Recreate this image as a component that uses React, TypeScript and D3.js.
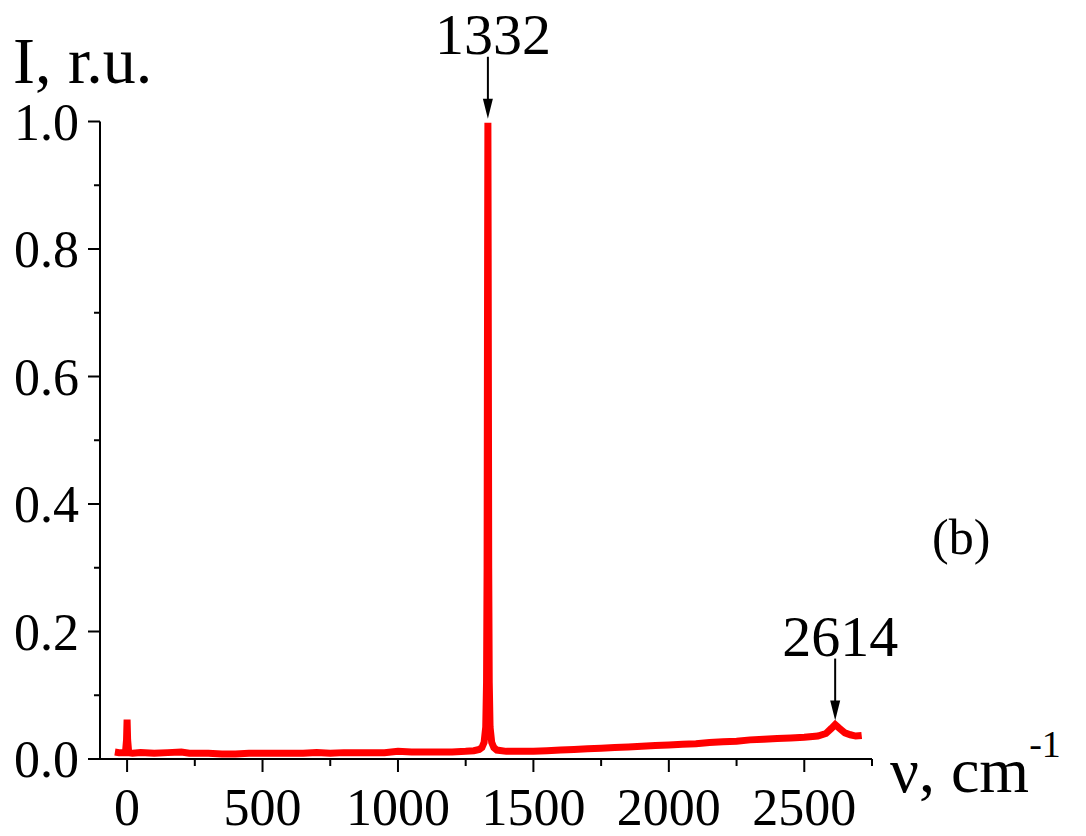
import React from "react";
import * as d3 from "d3";

// Raman spectrum (wavenumber, cm^-1) and normalized intensity
const waveNumbers = [
  -45, -30, -15, -6, -2, 0, 2, 6, 20, 50, 100, 150, 200, 230, 300, 350, 400, 450, 500,
  550, 600, 650, 700, 750, 800, 850, 900, 950, 1000, 1050, 1100, 1150, 1200, 1250, 1280,
  1300, 1310, 1318, 1324, 1327, 1329, 1331, 1332, 1333, 1335, 1337, 1340, 1346, 1354,
  1365, 1400, 1450, 1500, 1550, 1600, 1650, 1700, 1750, 1800, 1850, 1900, 1950, 2000,
  2050, 2100, 2150, 2200, 2250, 2300, 2350, 2400, 2450, 2500, 2550, 2580, 2600, 2614,
  2630, 2650, 2670, 2690, 2712,
];
const intensities = [
  0.011, 0.01, 0.01, 0.01, 0.03, 0.062, 0.03, 0.01, 0.009, 0.01, 0.009, 0.01, 0.011, 0.009,
  0.009, 0.008, 0.008, 0.009, 0.009, 0.009, 0.009, 0.009, 0.01, 0.009, 0.01, 0.01, 0.01,
  0.01, 0.012, 0.011, 0.011, 0.011, 0.011, 0.012, 0.013, 0.015, 0.018, 0.026, 0.05, 0.12,
  0.3, 0.8, 0.998, 0.8, 0.3, 0.12, 0.05, 0.026, 0.018, 0.014, 0.012, 0.012, 0.012, 0.013,
  0.014, 0.015, 0.016, 0.017, 0.018, 0.019, 0.02, 0.021, 0.022, 0.023, 0.024, 0.026,
  0.027, 0.028, 0.03, 0.031, 0.032, 0.033, 0.034, 0.036, 0.04, 0.048, 0.054, 0.048,
  0.041, 0.038, 0.036, 0.037,
];

const xMajorTicks = [0, 500, 1000, 1500, 2000, 2500];
const xMinorTicks = [250, 750, 1250, 1750, 2250, 2750];
const yMajorTicks = [0, 0.2, 0.4, 0.6, 0.8, 1.0];
const yMinorTicks = [0.1, 0.3, 0.5, 0.7, 0.9];

const peakLabels = ["1332", "2614"];
const peakPositions = [1332, 2614];
const peakHeights = [0.998, 0.054];

const FONT = "'Liberation Serif', 'Times New Roman', serif";

export default function App() {
  const x = d3.scaleLinear().domain([-100, 2750]).range([100, 872]);
  const y = d3.scaleLinear().domain([0, 1]).range([759, 121.5]);

  const pts = waveNumbers.map((w, i) => [w, intensities[i]] as [number, number]);
  const line = d3
    .line<[number, number]>()
    .x((d) => x(d[0]))
    .y((d) => y(d[1]));

  const x0 = x.range()[0];
  const x1 = x.range()[1];
  const yb = y(0);
  const yt = y(1);

  return (
    <svg
      width={1086}
      height={836}
      style={{ position: "absolute", left: 0, top: 0, background: "#fff" }}
      fontFamily={FONT}
    >
      <rect x={0} y={0} width={1086} height={836} fill="#fff" />
      {/* spectrum */}
      <path d={line(pts) || ""} fill="none" stroke="#ff0000" strokeWidth={7} />

      {/* axes */}
      <g stroke="#000" strokeWidth={2} fill="none">
        <line x1={x0} y1={yt} x2={x0} y2={yb} />
        <line x1={x0} y1={yb} x2={x1} y2={yb} />
        {yMajorTicks.map((t) => (
          <line key={"ym" + t} x1={x0 - 12} x2={x0} y1={y(t)} y2={y(t)} />
        ))}
        {yMinorTicks.map((t) => (
          <line key={"yn" + t} x1={x0 - 6} x2={x0} y1={y(t)} y2={y(t)} />
        ))}
        {xMajorTicks.map((t) => (
          <line key={"xm" + t} x1={x(t)} x2={x(t)} y1={yb} y2={yb + 13} />
        ))}
        {xMinorTicks.map((t) => (
          <line key={"xn" + t} x1={x(t)} x2={x(t)} y1={yb} y2={yb + 7} />
        ))}
      </g>

      {/* tick labels */}
      <g fill="#000" fontSize={52}>
        {yMajorTicks.map((t) => (
          <text key={"yl" + t} x={x0 - 21} y={y(t) + 18} textAnchor="end">
            {t.toFixed(1)}
          </text>
        ))}
        {xMajorTicks.map((t) => (
          <text key={"xl" + t} x={x(t)} y={825} textAnchor="middle">
            {t}
          </text>
        ))}
      </g>

      {/* axis titles */}
      <text x={13} y={83} fontSize={66} fill="#000">
        I, r.u.
      </text>
      <text x={890} y={792} fontSize={64} fill="#000">
        ν, cm
        <tspan fontSize={38} dy={-35}>
          -1
        </tspan>
      </text>

      {/* panel label */}
      <text x={932} y={554} fontSize={50} fill="#000">
        (b)
      </text>

      {/* peak annotations */}
      {peakPositions.map((p, i) => {
        const px = x(p);
        const tip = y(peakHeights[i]) - 4;
        const tail = tip - 62;
        return (
          <g key={"pk" + i}>
            <line x1={px} x2={px} y1={tail} y2={tip - 16} stroke="#000" strokeWidth={2} />
            <path
              d={`M${px - 5},${tip - 20} L${px + 5},${tip - 20} L${px},${tip} Z`}
              fill="#000"
            />
            <text
              x={px + 5}
              y={tail - 3}
              fontSize={58}
              textAnchor="middle"
              fill="#000"
            >
              {peakLabels[i]}
            </text>
          </g>
        );
      })}
    </svg>
  );
}
